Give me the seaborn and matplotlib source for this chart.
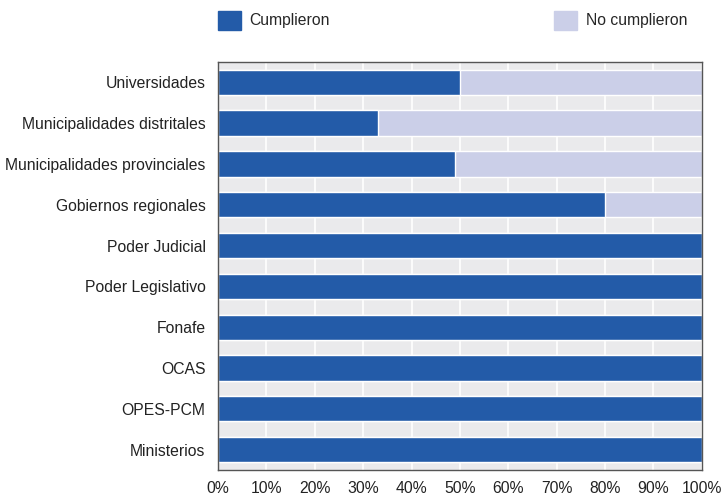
import matplotlib
matplotlib.use("Agg")
import matplotlib.pyplot as plt
import matplotlib.patches as mpatches
from matplotlib.ticker import FuncFormatter
import seaborn as sns
import pandas as pd

categorias = [
    "Universidades",
    "Municipalidades distritales",
    "Municipalidades provinciales",
    "Gobiernos regionales",
    "Poder Judicial",
    "Poder Legislativo",
    "Fonafe",
    "OCAS",
    "OPES-PCM",
    "Ministerios",
]
cumplieron = [50, 33, 49, 80, 100, 100, 100, 100, 100, 100]
no_cumplieron = [50, 67, 51, 20, 0, 0, 0, 0, 0, 0]
ticks = [0, 10, 20, 30, 40, 50, 60, 70, 80, 90, 100]

AZUL = "#235BA8"
LILA = "#CBCFE8"
FS = 11.3

sns.set_theme(style="darkgrid")
plt.rcParams["font.family"] = ["Liberation Sans", "DejaVu Sans"]

df = pd.DataFrame({
    "categoria": categorias,
    "cumplieron": cumplieron,
    "total": [c + n for c, n in zip(cumplieron, no_cumplieron)],
})

fig = plt.figure(figsize=(7.22, 4.95), dpi=100)
ax = fig.add_axes([0.302, 0.0505, 0.670, 0.8245])
ax.set_facecolor("#EAEAEC")

# stacked bars: total length in light colour, compliant share on top
sns.barplot(data=df, y="categoria", x="total", color=LILA, width=0.62,
            saturation=1, ax=ax, orient="h")
sns.barplot(data=df, y="categoria", x="cumplieron", color=AZUL, width=0.62,
            saturation=1, ax=ax, orient="h")

ax.set_xlim(0, 100)
ax.set_xticks(ticks)
ax.xaxis.set_major_formatter(FuncFormatter(lambda v, p: f"{v:.0f}%"))
ax.grid(axis="x", color="white", linewidth=1.2)
ax.grid(axis="y", visible=False)
ax.set_axisbelow(True)
ax.set_xlabel("")
ax.set_ylabel("")
ax.tick_params(axis="both", length=0, labelsize=FS, labelcolor="#222222")
ax.tick_params(axis="y", pad=9)
ax.tick_params(axis="x", pad=8)
for s in ax.spines.values():
    s.set_visible(True)
    s.set_color("#555555")
    s.set_linewidth(1.0)

h1 = mpatches.Patch(color=AZUL, label="Cumplieron")
h2 = mpatches.Patch(color=LILA, label="No cumplieron")
leg_kw = dict(frameon=False, fontsize=FS, handlelength=1.45, handleheight=1.45,
              handletextpad=0.55, borderaxespad=0, borderpad=0)
fig.legend(handles=[h1], loc="upper left", bbox_to_anchor=(0.302, 0.978), **leg_kw)
fig.legend(handles=[h2], loc="upper left", bbox_to_anchor=(0.768, 0.978), **leg_kw)

fig.savefig("out.png", dpi=100)
